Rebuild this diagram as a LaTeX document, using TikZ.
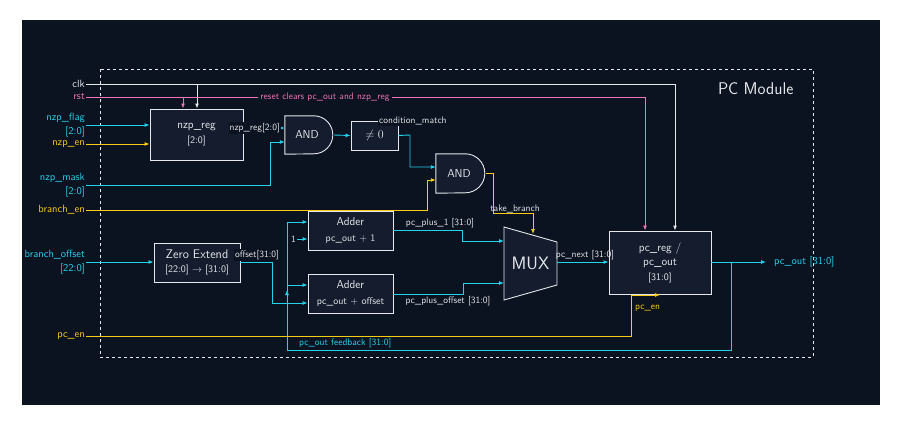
\documentclass[tikz,border=0pt]{standalone}
\usetikzlibrary{arrows.meta,calc}
\definecolor{bg}{HTML}{0B1220}
\definecolor{boxf}{HTML}{141C2E}
\definecolor{cy}{HTML}{22D3EE}
\definecolor{yl}{HTML}{FACC15}
\definecolor{pk}{HTML}{F472B6}
\definecolor{wh}{HTML}{E5E7EB}
\newcommand{\fs}[1]{\fontsize{#1}{#1}\selectfont}
\begin{document}
\begin{tikzpicture}[x=1pt,y=-1pt,font=\sffamily\fs{10.5},
  blk/.style={draw=wh,fill=boxf,line width=0.9pt,text=wh,align=center,inner sep=0pt},
  sig/.style={line width=0.9pt,-{Latex[length=5pt,width=4pt]}},
  wire/.style={line width=0.9pt},
  lbl/.style={anchor=east,align=right,inner sep=1pt},
  tl/.style={text=wh,inner sep=1pt,font=\sffamily\fs{9.5}}]
\useasboundingbox (0,0) rectangle (900,424);
\fill[white] (0,0) rectangle (900,424);
\fill[bg] (22,20) rectangle (880,405);
\draw[wh,dashed,line width=0.6pt] (100,69) rectangle (813,357);
\node[text=wh,font=\sffamily\fs{17},anchor=east] (title) at (797,89) {PC Module};
% inputs
\node[lbl,text=wh] (clk) at (86,84) {clk};
\node[lbl,text=pk] (rst) at (86,97) {rst};
\node[lbl,text=cy] (nzpflag) at (86,125) {nzp\_flag\\[3pt][2:0]};
\node[lbl,text=yl] (nzpen) at (86,144) {nzp\_en};
\node[lbl,text=cy] (nzpmask) at (86,185) {nzp\_mask\\[3pt][2:0]};
\node[lbl,text=yl] (branchen) at (86,210) {branch\_en};
\node[lbl,text=cy] (boff) at (86,262) {branch\_offset\\[3pt][22:0]};
\node[lbl,text=yl] (pcen) at (86,336) {pc\_en};
% blocks
\node[blk,minimum width=93,minimum height=51] (nzpreg) at (196.5,134.5) {\fs{11.5}nzp\_reg\\[5pt]\fs{10}[2:0]};
\node[minimum width=48,minimum height=38,inner sep=0pt] (and1) at (309,135) {};
\draw[wh,fill=boxf,line width=0.9pt] (and1.north west) -- ++(29,0) arc(-90:90:19) -- (and1.south west) -- cycle;
\node[text=wh,font=\sffamily\fs{11.5}] (and1t) at (307,135) {AND};
\node[blk,minimum width=47,minimum height=29] (ne) at (374.5,135.5) {\fs{13}$\neq 0$};
\node[minimum width=49,minimum height=39,inner sep=0pt] (and2) at (460.5,173.5) {};
\draw[wh,fill=boxf,line width=0.9pt] (and2.north west) -- ++(29.5,0) arc(-90:90:19.5) -- (and2.south west) -- cycle;
\node[text=wh,font=\sffamily\fs{11.5}] (and2t) at (459,173.5) {AND};
\node[blk,minimum width=85,minimum height=39] (add1) at (350.5,230.5) {\fs{11.5}Adder\\[5pt]\fs{10}pc\_out $+$ 1};
\node[blk,minimum width=85,minimum height=39] (add2) at (350.5,293.5) {\fs{11.5}Adder\\[5pt]\fs{10}pc\_out $+$ offset};
\node[blk,minimum width=86,minimum height=39] (zext) at (197,262.5) {\fs{12.5}Zero Extend\\[4pt]\fs{10}[22:0] $\rightarrow$ [31:0]};
\coordinate (mux) at (530.5,263.5);
\draw[wh,fill=boxf,line width=0.9pt] (504,227) -- (557,242) -- (557,285) -- (504,300) -- cycle;
\node[text=wh,font=\sffamily\fs{18}] (muxt) at (mux) {MUX};
\node[blk,minimum width=102,minimum height=63] (pcreg) at (660,262.5) {\fs{11.5}pc\_reg /\\[4pt]\fs{11.5}pc\_out\\[4pt]\fs{10}[31:0]};
% clk / rst
\draw[sig,wh] (clk.east) -- (675,84) -- (pcreg.north -| 675,0);
\draw[sig,wh] (197,84) -- (nzpreg.north -| 197,0);
\draw[sig,pk] (rst.east) -- (645,97) -- (pcreg.north -| 645,0);
\draw[sig,pk] (183,97) -- (nzpreg.north -| 183,0);
\node[text=pk,fill=bg,inner sep=2pt,font=\sffamily\fs{9.5}] (rstl) at (325,97) {reset clears pc\_out and nzp\_reg};
% nzp
\draw[sig,cy] (nzpflag.east |- 0,125) -- (nzpreg.west |- 0,125);
\draw[sig,yl] (nzpen.east) -- (nzpreg.west |- 0,144);
\draw[sig,cy] (nzpreg.east |- 0,128) -- (and1.west |- 0,128);
\node[tl,fill=bg,anchor=east] (nzpl) at (281,128) {nzp\_reg[2:0]};
\draw[sig,cy] (nzpmask.east |- 0,185) -- (270,185) -- (270,142) -- (and1.west |- 0,142);
\draw[sig,cy] (334,135) -- (ne.west);
\node[tl,anchor=west,fill=bg] (cml) at (378,121) {condition\_match};
\draw[sig,cy] (ne.east) -- (410,135) -- (410,167) -- (and2.west |- 0,167);
\draw[sig,yl] (branchen.east) -- (427,210) -- (427,180) -- (and2.west |- 0,180);
\draw[sig,yl] (486,173) -- (493,173) -- (493,213) -- (533,213) -- (533,234);
\node[tl,anchor=south] (tbl) at (515,214) {take\_branch};
% adders
\draw[sig,cy] (boff.east |- 0,262) -- (zext.west |- 0,262);
\draw[sig,cy] (zext.east |- 0,262) -- (272,262) -- (272,303) -- (add2.west |- 0,303);
\node[tl,anchor=south,fill=bg] (offl) at (257,261) {offset[31:0]};
\draw[sig,cy] (731,262) -- (731,350) -- (287,350) -- (287,290);
\draw[wire,cy] (287,292) -- (287,222);
\draw[sig,cy] (287,222) -- (add1.west |- 0,222);
\draw[sig,cy] (287,285) -- (add2.west |- 0,285);
\node[tl,text=cy,anchor=south west] (fbl) at (298,349) {pc\_out feedback [31:0]};
\node[tl,anchor=east] (one) at (297,239) {1};
\draw[sig,cy] (one.east) -- (add1.west |- 0,239);
\draw[sig,cy] (add1.east |- 0,230) -- (462,230) -- (462,241) -- (504,241);
\node[tl,anchor=south] (p1l) at (440,229) {pc\_plus\_1 [31:0]};
\draw[sig,cy] (add2.east |- 0,294) -- (463,294) -- (463,283) -- (504,283);
\node[tl,anchor=north] (pol) at (448,295) {pc\_plus\_offset [31:0]};
\draw[sig,cy] (557,262) -- (pcreg.west |- 0,262);
\node[tl,anchor=south] (pnl) at (585,261) {pc\_next [31:0]};
\draw[sig,cy] (pcreg.east |- 0,262) -- (766,262);
\node[text=cy,anchor=west,inner sep=1pt] (pol2) at (773,262) {pc\_out [31:0]};
\draw[sig,yl] (pcen.east) -- (631,336) -- (631,295) -- (660,295);
\node[tl,text=yl,anchor=north west] (pcenl) at (634,304) {pc\_en};
\end{tikzpicture}
\end{document}
